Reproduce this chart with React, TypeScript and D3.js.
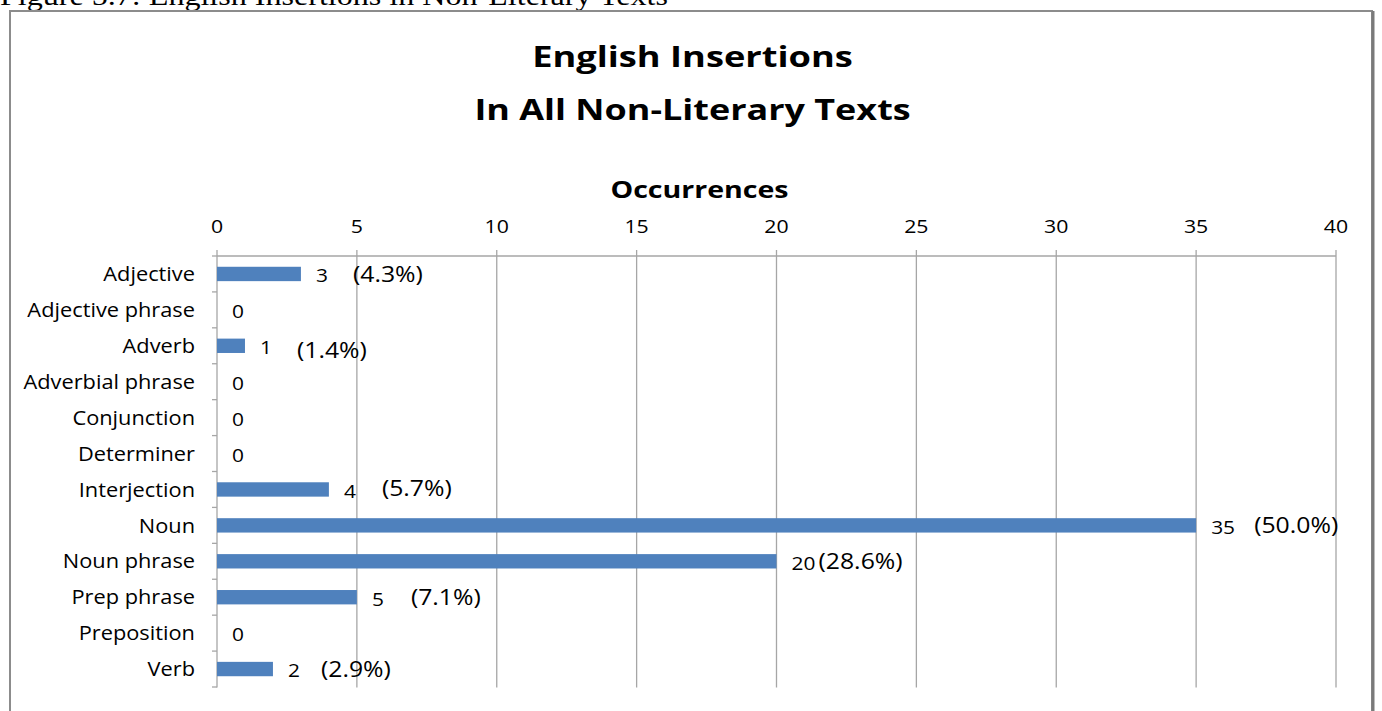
import React from "react";
import * as d3 from "d3";

const categories = [
  "Adjective",
  "Adjective phrase",
  "Adverb",
  "Adverbial phrase",
  "Conjunction",
  "Determiner",
  "Interjection",
  "Noun",
  "Noun phrase",
  "Prep phrase",
  "Preposition",
  "Verb",
];
const values = [3, 0, 1, 0, 0, 0, 4, 35, 20, 5, 0, 2];
const percentLabels = ["(4.3%)", "", "(1.4%)", "", "", "", "(5.7%)", "(50.0%)", "(28.6%)", "(7.1%)", "", "(2.9%)"];
const xTicks = [0, 5, 10, 15, 20, 25, 30, 35, 40];

// manual annotation offsets (px) from the bar end, as placed in the source
const pctOffset = [52, 0, 52, 0, 0, 0, 53, 58, 42, 54, 0, 48];
const pctDy = [0, 0, 5, 0, 0, 0, -1, 0, 0, 0, 0, 0];

const W = 1382;
const H = 711;
const FONT = "'Open Sans', 'Noto Sans', sans-serif";

type TProps = {
  x: number;
  y: number;
  sx?: number;
  anchor?: "start" | "middle" | "end";
  size: number;
  bold?: boolean;
  dy?: string;
  children: React.ReactNode;
};

function T({ x, y, sx = 1, anchor = "start", size, bold, dy, children }: TProps) {
  return (
    <text
      transform={`translate(${x},${y}) scale(${sx},1)`}
      textAnchor={anchor}
      fontSize={size}
      fontWeight={bold ? "bold" : "normal"}
      dy={dy}
      fill="#000"
    >
      {children}
    </text>
  );
}

export default function App() {
  const x = d3.scaleLinear().domain([0, 40]).range([217, 1336]);
  const y = d3
    .scaleBand<string>()
    .domain(categories)
    .range([256, 687])
    .paddingInner(0.6)
    .paddingOuter(0.3);
  const step = y.step();
  const barH = y.bandwidth();
  const plotTop = 256;
  const plotBottom = 687.5;
  const gapLabel = 15;

  return (
    <svg
      width={W}
      height={H}
      style={{ position: "absolute", left: 0, top: 0, background: "#fff" }}
      fontFamily={FONT}
    >
      <rect x={0} y={0} width={W} height={H} fill="#fff" />
      <text
        x={0}
        y={5}
        fontFamily="'Liberation Serif', 'Times New Roman', serif"
        fontSize={27}
        textLength={668}
        lengthAdjust="spacingAndGlyphs"
        fill="#000"
      >
        Figure 5.7: English Insertions in Non-Literary Texts
      </text>
      {/* frame */}
      <path d={`M10,${H + 5} V11 H1372 V${H + 5}`} fill="none" stroke="#8c8c8c" strokeWidth={2} />
      <line x1={1373} x2={1373} y1={11} y2={H} stroke="#7a7a7a" strokeWidth={3} />

      {/* titles */}
      <T x={692.5} y={67} anchor="middle" size={29} bold sx={1.25}>
        English Insertions
      </T>
      <T x={692.5} y={120} anchor="middle" size={29} bold sx={1.24}>
        In All Non-Literary Texts
      </T>
      <T x={699.5} y={198} anchor="middle" size={24} bold sx={1.19}>
        Occurrences
      </T>

      {/* gridlines and top axis */}
      {xTicks.map((t) => (
        <g key={t}>
          <line x1={x(t)} x2={x(t)} y1={plotTop - 6} y2={plotBottom} stroke="#a6a6a6" strokeWidth={1.3} />
          <T x={x(t)} y={233} anchor="middle" size={19} sx={1.12}>
            {t}
          </T>
        </g>
      ))}
      <line x1={x(0)} x2={x(40)} y1={plotTop} y2={plotTop} stroke="#a6a6a6" strokeWidth={1.3} />

      {/* left axis ticks */}
      {d3.range(categories.length + 1).map((i) => (
        <line
          key={i}
          x1={x(0) - 5}
          x2={x(0)}
          y1={plotTop + i * step}
          y2={plotTop + i * step}
          stroke="#a6a6a6"
          strokeWidth={1.3}
        />
      ))}

      {/* bars */}
      {categories.map((c, i) => {
        const cy = (y(c) as number) + barH / 2;
        const v = values[i];
        return (
          <g key={c}>
            <T x={195} y={cy} dy="0.36em" anchor="end" size={20} sx={1.09}>
              {c}
            </T>
            {v > 0 && (
              <rect x={x(0)} y={y(c) as number} width={x(v) - x(0)} height={barH} fill="#4f81bd" />
            )}
            <T x={x(v) + gapLabel} y={cy + 1.5} dy="0.36em" size={19} sx={1.1}>
              {v}
            </T>
            {percentLabels[i] && (
              <T x={x(v) + pctOffset[i]} y={cy + pctDy[i]} dy="0.36em" size={21} sx={1.18}>
                {percentLabels[i]}
              </T>
            )}
          </g>
        );
      })}
    </svg>
  );
}
